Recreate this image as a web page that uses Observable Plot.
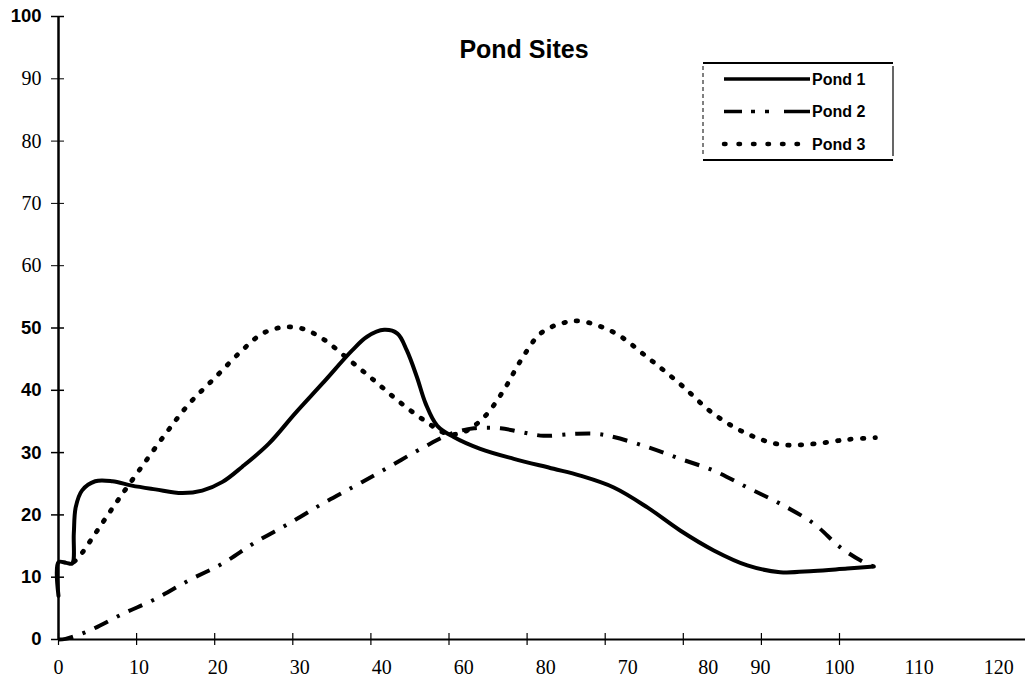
<!DOCTYPE html>
<html>
<head>
<meta charset="utf-8">
<script src="https://cdn.jsdelivr.net/npm/d3@7"></script>
<script src="https://cdn.jsdelivr.net/npm/@observablehq/plot@0.6"></script>
<style>
  html, body { margin: 0; padding: 0; background: #fff; }
  #chart svg { display: block; }
</style>
</head>
<body>
<div id="chart"></div>
<script>
// ---- Data ----
const title = "Pond Sites";
const seriesNames = ["Pond 1", "Pond 2", "Pond 3"];

const pond1X = [0, 0, 1, 1.75, 1.96, 2.2, 3.0, 4.7, 6.9, 9.4, 12.4, 15.8, 18.4, 21, 23.5, 26.9, 30.3, 33.8, 37.6, 39.5, 41.7, 43.4, 44.6, 45.9, 47, 48.5, 50.6, 54, 58.3, 63.4, 66.8, 71.1, 75.4, 79.6, 83.9, 88.2, 92.4, 96.7, 101, 104.4];
const pond1Y = [7, 12.4, 12.3, 12.2, 17, 21.2, 23.9, 25.4, 25.4, 24.7, 24.1, 23.5, 23.9, 25.3, 27.7, 31.4, 36.3, 41.1, 46.4, 48.6, 49.7, 49.1, 46.4, 42.1, 37.9, 34.3, 32.5, 30.6, 29, 27.4, 26.3, 24.4, 21.2, 17.5, 14.3, 11.9, 10.8, 11, 11.4, 11.7];

const pond2X = [0, 0.9, 3.9, 8.2, 12.4, 16.7, 21, 25.2, 29.5, 33.8, 37.6, 41.2, 46.8, 50.2, 53.2, 56.6, 59.2, 62.1, 66, 69, 71.1, 75.4, 79.6, 83.9, 88.2, 92.4, 96.7, 100.1, 103.1, 104.4];
const pond2Y = [0, 0.1, 1.4, 4.1, 6.5, 9.5, 12.2, 15.6, 18.6, 21.8, 24.4, 26.9, 30.9, 33, 33.9, 33.9, 33.3, 32.7, 33, 33, 32.5, 30.9, 29, 27.1, 24.4, 21.8, 18.6, 14.8, 12.4, 11.7];

const pond3X = [2.0, 2.6, 4.7, 7.3, 10.3, 13.7, 16.7, 20.1, 23.5, 26.1, 28.6, 31.2, 33.8, 37.3, 40.4, 43.4, 46.8, 49.8, 51.9, 54.5, 57, 59.2, 61.7, 64.3, 66.8, 71.1, 75.4, 79.6, 83.9, 88.2, 92.4, 96.7, 101, 104.6];
const pond3Y = [12.5, 13.2, 17, 21.8, 27.1, 33, 37.8, 42.1, 46.4, 49.1, 50.1, 49.9, 48.3, 44.8, 41.6, 38.4, 35.2, 33, 33.3, 35.7, 40, 44.8, 49.1, 50.7, 51.1, 49.3, 45.3, 41, 36.2, 33, 31.3, 31.4, 32.1, 32.4];

const yTicksBold = [0, 10, 20, 30, 40, 50, 100];
const yTicksSerif = [60, 70, 80, 90];
const xTicks = [0, 10, 20, 30, 40, 50, 60, 70, 80, 90, 100];
const xTickLabels = ["0", "10", "20", "30", "40", "60", "80", "70", "80", "90", "100", "110", "120"];
const xTickLabelAt = [0, 10.3, 20.4, 30.9, 41.4, 51.9, 62.4, 72.9, 83.2, 89.9, 100, 110.2, 120.4];

// ---- Build tidy table ----
const rows = [];
[[pond1X, pond1Y], [pond2X, pond2Y], [pond3X, pond3Y]].forEach(([xs, ys], i) => {
  xs.forEach((x, j) => rows.push({series: seriesNames[i], x, y: ys[j]}));
});
const xLabelRows = xTickLabels.map((t, i) => ({t, at: xTickLabelAt[i]}));

// ---- Styles ----
const sans = "'Liberation Sans', Arial, sans-serif";
const serif = "'Liberation Serif', 'Times New Roman', serif";
const styles = {
  "Pond 1": {dash: null, width: 4, cap: "round"},
  "Pond 2": {dash: "15,10,3,10", width: 4, cap: "butt"},
  "Pond 3": {dash: "1.5,11", width: 4.8, cap: "round"}
};

const W = 1025, H = 689;
const mL = 58, mR = 0, mT = 16, mB = 50;
const xMax = (W - mL - mR) / 7.81;

const lineMarks = seriesNames.map(name => Plot.line(rows.filter(d => d.series === name), {
  x: "x", y: "y", curve: "catmull-rom",
  stroke: "#000", strokeWidth: styles[name].width,
  strokeDasharray: styles[name].dash,
  strokeLinecap: styles[name].cap,
  strokeLinejoin: "round"
}));

const chart = Plot.plot({
  width: W, height: H,
  marginLeft: mL, marginRight: mR, marginTop: mT, marginBottom: mB,
  style: {background: "#fff", color: "#000"},
  x: {domain: [0, xMax], axis: null},
  y: {domain: [0, 100], axis: null},
  marks: [
    Plot.ruleY([0], {stroke: "#000", strokeWidth: 2}),
    Plot.ruleX([0], {y1: 0, y2: 100, stroke: "#000", strokeWidth: 2.5}),
    Plot.axisY({ticks: yTicksBold, anchor: "left", tickSize: 13, dx: 6, tickPadding: 10, label: null,
      fontFamily: sans, fontWeight: "bold", fontSize: 18.5, strokeWidth: 1.5}),
    Plot.axisY({ticks: yTicksSerif, anchor: "left", tickSize: 13, dx: 6, tickPadding: 10, label: null,
      fontFamily: serif, fontSize: 20, strokeWidth: 1}),
    Plot.axisX({ticks: xTicks, anchor: "bottom", tickSize: 12, dy: -6, tickFormat: () => "", label: null, strokeWidth: 1.2}),
    Plot.text(xLabelRows, {x: "at", text: "t", frameAnchor: "bottom", dy: 34,
      fontFamily: serif, fontSize: 20, fill: "#000"}),
    ...lineMarks,
    Plot.text([title], {frameAnchor: "top", dx: -18, dy: 24, fontFamily: sans, fontWeight: "bold", fontSize: 25, fill: "#000"})
  ]
});

// ---- Legend drawn inside the same SVG ----
const svg = d3.select(chart);
const lg = svg.append("g").attr("class", "legend").attr("text-anchor", "start");
const lx0 = 703, lx1 = 893, ly0 = 63, ly1 = 160;
lg.append("line").attr("x1", lx0).attr("x2", lx1).attr("y1", ly0).attr("y2", ly0).attr("stroke", "#000").attr("stroke-width", 2);
lg.append("line").attr("x1", lx0).attr("x2", lx1).attr("y1", ly1).attr("y2", ly1).attr("stroke", "#000").attr("stroke-width", 2);
lg.append("line").attr("x1", lx0).attr("x2", lx0).attr("y1", ly0 + 3).attr("y2", ly1 - 4).attr("stroke", "#000").attr("stroke-width", 1).attr("stroke-dasharray", "4,3");
lg.append("line").attr("x1", lx1).attr("x2", lx1).attr("y1", ly0 + 3).attr("y2", ly1 - 4).attr("stroke", "#000").attr("stroke-width", 1.2);
const legendDash = {"Pond 1": null, "Pond 2": "18,9,4,10,4,15,30", "Pond 3": "1.5,13"};
const legendCap = {"Pond 1": "butt", "Pond 2": "butt", "Pond 3": "round"};
seriesNames.forEach((name, i) => {
  const cy = 79 + i * 32.5;
  lg.append("line").attr("x1", 724).attr("x2", 810).attr("y1", cy).attr("y2", cy)
    .attr("stroke", "#000").attr("stroke-width", name === "Pond 3" ? 4.5 : 3.5)
    .attr("stroke-linecap", legendCap[name])
    .attr("stroke-dasharray", legendDash[name]);
  lg.append("text").attr("x", 812).attr("y", cy).attr("dy", "0.36em")
    .attr("font-family", sans).attr("font-weight", "bold").attr("font-size", 16)
    .attr("fill", "#000").text(name);
});

document.getElementById("chart").appendChild(chart);
</script>
</body>
</html>
